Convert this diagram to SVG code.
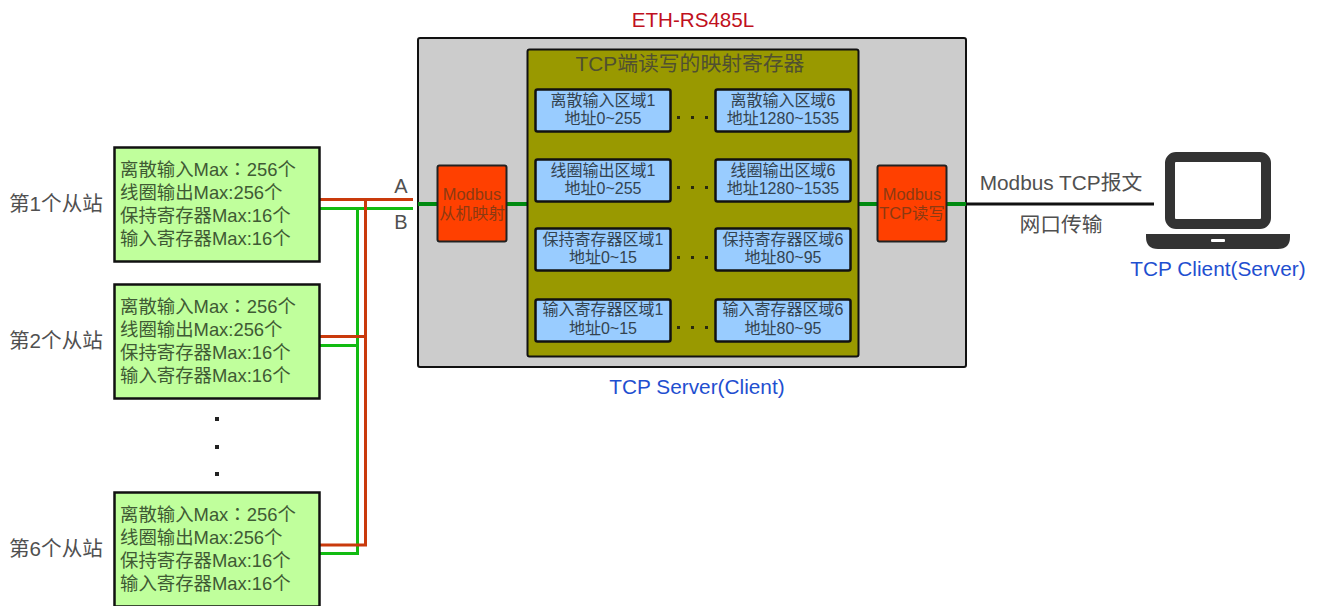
<svg xmlns="http://www.w3.org/2000/svg" width="1317" height="606" viewBox="0 0 1317 606">
<style>
text{font-family:"Liberation Sans","Noto Sans CJK SC",sans-serif}
.lbl{font-size:20.600px;fill:#505050}
.slave{fill:#c0ff9c;stroke:#111;stroke-width:2.500}
.st{font-size:18.400px;fill:#3f5a34}
.tc{font-family:"Noto Sans CJK TC",sans-serif}
.reg{fill:#99ccff;stroke:#111;stroke-width:2.500}
.rt{font-size:16px;fill:#33434f;text-anchor:middle}
.map{fill:#ff4000;stroke:#222;stroke-width:2}
.mt{font-size:16.400px;fill:#8c3a12;text-anchor:middle}
.blue{font-size:20.800px;fill:#1f4fd0;text-anchor:middle}
.dark{font-size:20.800px;fill:#505050;text-anchor:middle}
.dot{fill:#222}
.odot{fill:#2a2a10}
.r{fill:none;stroke:#c93a0c;stroke-width:3}
.g{fill:none;stroke:#12bb12;stroke-width:3}
.tg{fill:none;stroke:#008a10;stroke-width:4}
.k{fill:none;stroke:#111;stroke-width:3}
</style>
<g id="device">
<rect x="418" y="38" width="548" height="329" rx="2" fill="#cccccc" stroke="#111" stroke-width="2"/>
<text x="693" y="27" font-size="20.600" fill="#c01020" text-anchor="middle">ETH-RS485L</text>
<text x="697" y="394" class="blue">TCP Server(Client)</text>
</g>
<g id="connectors">
<path class="g" d="M319 208.500H413M319 345.500H357.500M319 553.500H357.500V208.500"/>
<path class="r" d="M319 199.500H413M319 336.500H365.500M319 545H365.500V199.500"/>
<path class="tg" d="M418 204H437M507 204H527M858 204H877M947 204H966"/>
<path class="k" d="M966 204H1154"/>
</g>
<g id="registers">
<rect x="527.500" y="49.500" width="331" height="307" rx="2" fill="#999900" stroke="#111" stroke-width="2"/>
<text x="690" y="71" font-size="20.800" fill="#505030" text-anchor="middle">TCP端读写的映射寄存器</text>
</g>
<g id="reg-di-1"><rect class="reg" x="535.500" y="89.500" width="135" height="42" rx="2"/><text class="rt" x="603" y="106">离散输入区域1</text><text class="rt" x="603" y="124">地址0~255</text></g>
<g id="reg-di-6"><rect class="reg" x="715.500" y="89.500" width="135" height="42" rx="2"/><text class="rt" x="783" y="106">离散输入区域6</text><text class="rt" x="783" y="124">地址1280~1535</text></g>
<g id="reg-co-1"><rect class="reg" x="535.500" y="159.500" width="135" height="42" rx="2"/><text class="rt" x="603" y="176">线圈输出区域1</text><text class="rt" x="603" y="194">地址0~255</text></g>
<g id="reg-co-6"><rect class="reg" x="715.500" y="159.500" width="135" height="42" rx="2"/><text class="rt" x="783" y="176">线圈输出区域6</text><text class="rt" x="783" y="194">地址1280~1535</text></g>
<g id="reg-hr-1"><rect class="reg" x="535.500" y="228.500" width="135" height="42" rx="2"/><text class="rt" x="603" y="245">保持寄存器区域1</text><text class="rt" x="603" y="263">地址0~15</text></g>
<g id="reg-hr-6"><rect class="reg" x="715.500" y="228.500" width="135" height="42" rx="2"/><text class="rt" x="783" y="245">保持寄存器区域6</text><text class="rt" x="783" y="263">地址80~95</text></g>
<g id="reg-ir-1"><rect class="reg" x="535.500" y="299.500" width="135" height="42" rx="2"/><text class="rt" x="603" y="315">输入寄存器区域1</text><text class="rt" x="603" y="334">地址0~15</text></g>
<g id="reg-ir-6"><rect class="reg" x="715.500" y="299.500" width="135" height="42" rx="2"/><text class="rt" x="783" y="315">输入寄存器区域6</text><text class="rt" x="783" y="334">地址80~95</text></g>
<g id="reg-dots">
<rect class="odot" x="677" y="116" width="3" height="3"/><rect class="odot" x="691" y="116" width="3" height="3"/><rect class="odot" x="705" y="116" width="3" height="3"/>
<rect class="odot" x="677" y="186" width="3" height="3"/><rect class="odot" x="691" y="186" width="3" height="3"/><rect class="odot" x="705" y="186" width="3" height="3"/>
<rect class="odot" x="677" y="256" width="3" height="3"/><rect class="odot" x="691" y="256" width="3" height="3"/><rect class="odot" x="705" y="256" width="3" height="3"/>
<rect class="odot" x="677" y="326" width="3" height="3"/><rect class="odot" x="691" y="326" width="3" height="3"/><rect class="odot" x="705" y="326" width="3" height="3"/>
</g>
<g id="map-slave"><rect class="map" x="437.500" y="165.500" width="69" height="76" rx="2"/><text class="mt" x="472" y="200">Modbus</text><text class="mt" x="472" y="219">从机映射</text></g>
<g id="map-tcp"><rect class="map" x="877.500" y="165.500" width="69" height="76" rx="2"/><text class="mt" x="912" y="200">Modbus</text><text class="mt" x="912" y="219">TCP读写</text></g>
<g id="bus-labels">
<text x="401" y="193" font-size="20" fill="#505050" text-anchor="middle">A</text>
<text x="401" y="229" font-size="20" fill="#505050" text-anchor="middle">B</text>
</g>
<g id="slave-1"><rect class="slave" x="114.500" y="147.500" width="205" height="114"/>
<text class="lbl" x="9" y="211">第1个从站</text>
<text class="st" x="120" y="176">离散输入Max<tspan class="tc">：</tspan>256个</text><text class="st" x="120" y="199">线圈输出Max:256个</text><text class="st" x="120" y="222">保持寄存器Max:16个</text><text class="st" x="120" y="245">输入寄存器Max:16个</text></g>
<g id="slave-2"><rect class="slave" x="114.500" y="284.500" width="205" height="114"/>
<text class="lbl" x="9" y="348">第2个从站</text>
<text class="st" x="120" y="313">离散输入Max<tspan class="tc">：</tspan>256个</text><text class="st" x="120" y="336">线圈输出Max:256个</text><text class="st" x="120" y="359">保持寄存器Max:16个</text><text class="st" x="120" y="382">输入寄存器Max:16个</text></g>
<g id="slave-dots">
<rect class="dot" x="215" y="417" width="4" height="4"/><rect class="dot" x="215" y="445" width="4" height="4"/><rect class="dot" x="215" y="472" width="4" height="4"/>
</g>
<g id="slave-6"><rect class="slave" x="114.500" y="492.500" width="205" height="114"/>
<text class="lbl" x="9" y="556">第6个从站</text>
<text class="st" x="120" y="521">离散输入Max<tspan class="tc">：</tspan>256个</text><text class="st" x="120" y="544">线圈输出Max:256个</text><text class="st" x="120" y="567">保持寄存器Max:16个</text><text class="st" x="120" y="590">输入寄存器Max:16个</text></g>
<g id="link-labels">
<text class="dark" x="1061" y="190">Modbus TCP报文</text>
<text class="dark" x="1061" y="232">网口传输</text>
</g>
<g id="laptop">
<rect x="1170" y="157" width="96" height="67" rx="6" fill="#fff" stroke="#333" stroke-width="10"/>
<path d="M1146 234H1290V237Q1290 249 1278 249H1158Q1146 249 1146 237Z" fill="#333"/>
<rect x="1211" y="239" width="14" height="3" rx="1" fill="#fff"/>
<text class="blue" x="1218" y="276">TCP Client(Server)</text>
</g>
</svg>
